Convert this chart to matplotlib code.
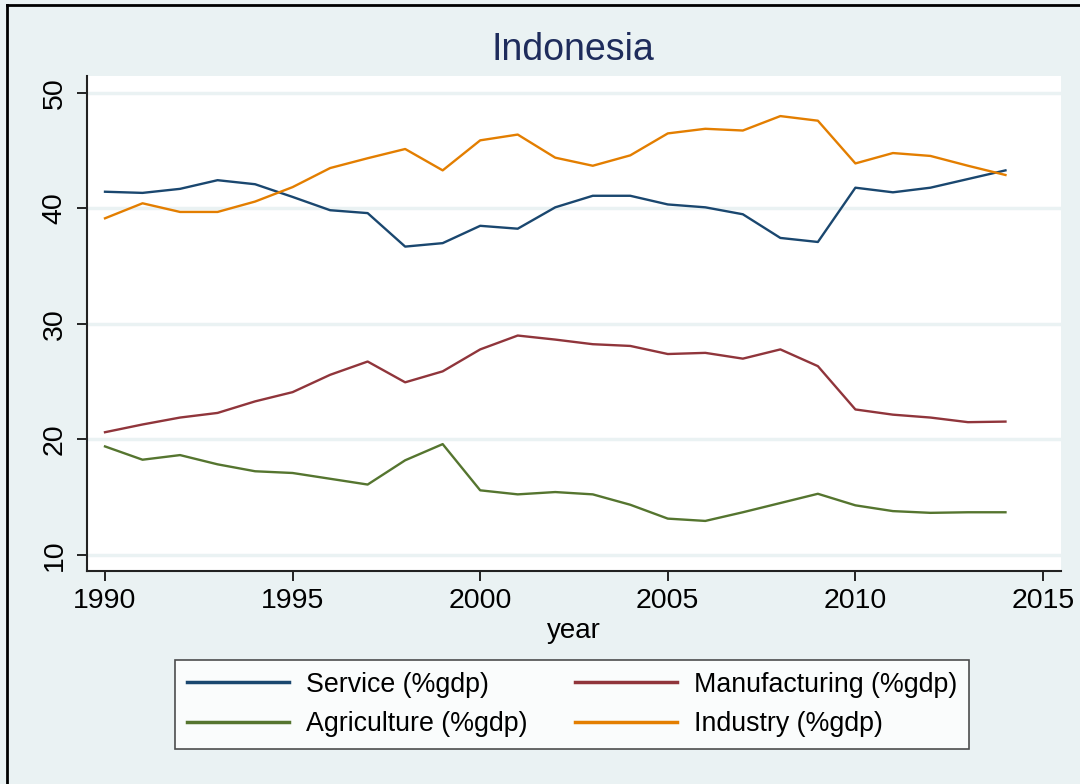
import matplotlib.pyplot as plt
from matplotlib.lines import Line2D

# indonesia sector shares of gdp
years = list(range(1990, 2015))
service = [41.45, 41.35, 41.7, 42.45, 42.1, 41.0, 39.85, 39.6, 36.7, 37.0,
           38.5, 38.25, 40.1, 41.1, 41.1, 40.35, 40.1, 39.5, 37.45, 37.1,
           41.8, 41.4, 41.8, 42.55, 43.3]
industry = [39.15, 40.45, 39.7, 39.7, 40.6, 41.85, 43.5, 44.35, 45.15, 43.3,
            45.9, 46.4, 44.4, 43.7, 44.6, 46.5, 46.9, 46.75, 48.0, 47.6,
            43.9, 44.8, 44.55, 43.7, 42.9]
manufacturing = [20.63, 21.3, 21.9, 22.3, 23.3, 24.1, 25.6, 26.75, 24.95, 25.9,
                 27.8, 29.0, 28.65, 28.25, 28.1, 27.4, 27.5, 27.0, 27.8, 26.35,
                 22.6, 22.15, 21.9, 21.5, 21.55]
agriculture = [19.4, 18.25, 18.65, 17.85, 17.25, 17.1, 16.6, 16.1, 18.2, 19.6,
               15.6, 15.25, 15.45, 15.25, 14.35, 13.15, 12.95, 13.7, 14.5, 15.3,
               14.3, 13.8, 13.65, 13.7, 13.7]

x_ticks = [1990, 1995, 2000, 2005, 2010, 2015]
y_ticks = [10, 20, 30, 40, 50]

# stata s2color look
bg = "#EAF2F3"
navy = "#1A476F"
maroon = "#90353B"
green = "#55752F"
orange = "#E37E00"

plt.rcParams['font.family'] = ['Liberation Sans', 'DejaVu Sans']

fig = plt.figure(figsize=(10.8, 7.84), dpi=100)
fig.patch.set_facecolor(bg)

# outer frame (only left and top show in the original crop)
fig.add_artist(Line2D([7/1080, 7/1080], [0, 1 - 5/784], color="black", lw=2))
fig.add_artist(Line2D([7/1080, 1], [1 - 5/784, 1 - 5/784], color="black", lw=2))

ax = fig.add_axes([87/1080, 1 - 571/784, (1061 - 87)/1080, (571 - 76)/784])
ax.set_facecolor("white")

ax.plot(years, service, color=navy, lw=1.7, label="Service (%gdp)")
ax.plot(years, manufacturing, color=maroon, lw=1.7, label="Manufacturing (%gdp)")
ax.plot(years, agriculture, color=green, lw=1.7, label="Agriculture (%gdp)")
ax.plot(years, industry, color=orange, lw=1.7, label="Industry (%gdp)")

ax.set_xlim(1989.52, 2015.48)
ax.set_ylim(8.615, 51.47)
ax.set_xticks(x_ticks)
ax.set_yticks(y_ticks)
ax.grid(axis="y", color=bg, lw=2.5)
ax.set_axisbelow(True)

for side in ["top", "right"]:
    ax.spines[side].set_visible(False)
for side in ["left", "bottom"]:
    ax.spines[side].set_color("#222222")
    ax.spines[side].set_linewidth(1.5)

ax.tick_params(axis="x", direction="out", length=7, width=1.2, labelsize=20.5, pad=5)
ax.tick_params(axis="y", direction="out", length=7, width=1.2, labelsize=20.5, pad=7)
for lab in ax.get_yticklabels():
    lab.set_rotation(90)
    lab.set_va("center")

ax.set_xlabel("year", fontsize=20, labelpad=3)
fig.text(573/1080, 1 - 50/784, "Indonesia", fontsize=27, color="#1E2C5C",
         ha="center", va="center")

# legend with service/manufacturing on the first row
h, l = ax.get_legend_handles_labels()
order = [0, 2, 1, 3]
leg = fig.legend([h[i] for i in order], [l[i] for i in order], ncol=2,
                 loc="center", bbox_to_anchor=(572/1080, 1 - 704.5/784),
                 fontsize=19.3, handlelength=3.8, handletextpad=0.63,
                 columnspacing=1.8, labelspacing=0.5, borderpad=0.45,
                 frameon=True, fancybox=False)
leg.get_frame().set_edgecolor("#222222")
leg.get_frame().set_linewidth(1.2)
for line in leg.get_lines():
    line.set_linewidth(2.5)

plt.savefig("out.png", dpi=100, facecolor=bg)
